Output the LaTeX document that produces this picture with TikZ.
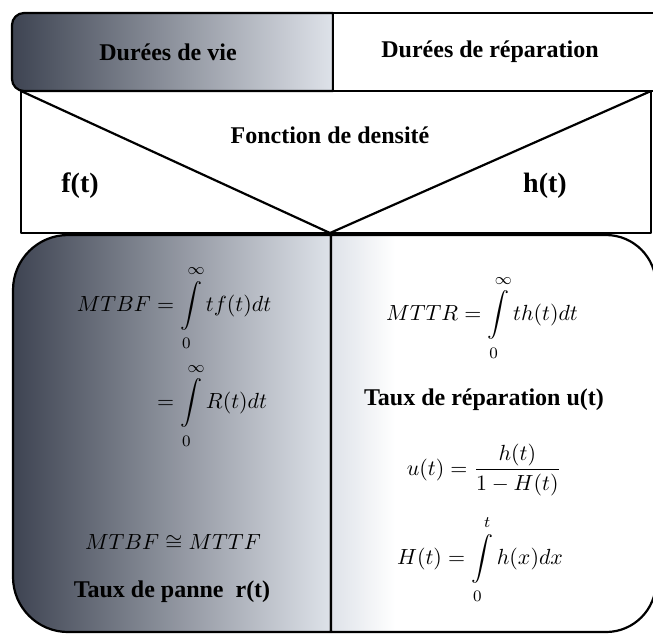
\documentclass[tikz,border=0pt]{standalone}
\usepackage{amsmath,amssymb}
\usepackage{fontspec}
\setmainfont{Liberation Serif}
\usetikzlibrary{positioning}

\definecolor{slatedark}{RGB}{62,68,82}
\definecolor{slatelight}{RGB}{222,226,233}

% limits set a little away from the integral sign
\newcommand\uplim[1]{#1\rule[-2pt]{0pt}{2pt}}
\newcommand\lowlim[1]{\rule{0pt}{7.5pt}#1}

\tikzset{
  frame/.style={draw,line width=1.1pt,line join=round},
  header/.style={font=\bfseries\fontsize{12}{14}\selectfont},
  fname/.style={font=\bfseries\fontsize{14}{16}\selectfont},
  formula/.style={font=\fontsize{11}{13}\selectfont,inner sep=1pt},
}

\begin{document}
\begin{tikzpicture}[x=0.5pt,y=-0.5pt]
  \useasboundingbox (0,0) rectangle (653,634);
  % top band
  \draw[frame,left color=slatedark,right color=slatelight]
    (333,13) -- (24,13) arc[start angle=270,end angle=180,radius=12]
    -- (12,79) arc[start angle=180,end angle=90,radius=12] -- (333,91) -- cycle;
  \draw[frame,fill=white] (333,13) rectangle (660,91);
  % density band
  \coordinate (dl) at (21,91);
  \coordinate (dr) at (651,91);
  \coordinate (apex) at (330,233);
  \draw[frame] (dl) rectangle (651,233);
  \draw[frame] (dl) -- (apex) -- (dr);
  % lower panels
  \draw[frame,left color=slatedark,right color=slatelight]
    (331,235) -- (68,235) arc[start angle=270,end angle=180,radius=55]
    -- (13,577) arc[start angle=180,end angle=90,radius=55] -- (331,632) -- cycle;
  \fill[left color=slatelight,right color=white] (331,235) rectangle (395,632);
  \draw[frame] (331,235) -- (606,235) arc[start angle=270,end angle=360,radius=50]
    -- (656,582) arc[start angle=0,end angle=90,radius=50] -- (331,632) -- cycle;

  \node[header] (vie) at (168,52) {Durées de vie};
  \node[header] (rep) at (490,52) {Durées de réparation};
  \node[header] (dens) at (330,135) {Fonction de densité};
  \node[fname] (f) at (80,186) {f(t)};
  \node[fname] (h) at (545,186) {h(t)};

  \node[formula] (mtbf) at (174,357)
    {$\begin{aligned}MTBF&=\int\limits_{\lowlim0}^{\uplim\infty} tf(t)dt\\[2pt]
      &=\int\limits_{\lowlim0}^{\uplim\infty} R(t)dt\end{aligned}$};
  \node[formula] (mtbfeq) at (173,543) {$MTBF\cong MTTF$};
  \node[header] (panne) at (172,592) {Taux de panne\ \ r(t)};

  \node[formula] (mttr) at (482,318) {$MTTR=\displaystyle\int\limits_{\lowlim0}^{\uplim\infty} th(t)dt$};
  \node[header] (tauxu) at (484,400) {Taux de réparation u(t)};
  \node[formula] (ut) at (484,470) {$u(t)=\dfrac{h(t)}{1-H(t)}$};
  \node[formula] (Ht) at (480,560) {$H(t)=\displaystyle\int\limits_{\lowlim0}^{\uplim t} h(x)dx$};
\end{tikzpicture}
\end{document}
